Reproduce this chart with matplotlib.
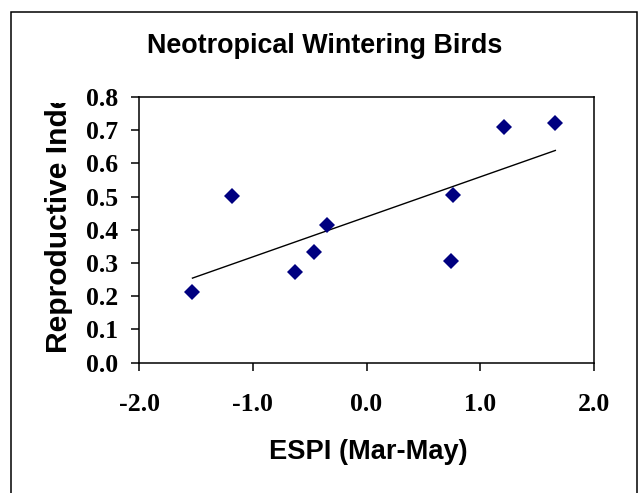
import numpy as np
import matplotlib
matplotlib.use("Agg")
import matplotlib.pyplot as plt
from matplotlib.patches import Rectangle

# Data
espi = [-1.53, -1.18, -0.63, -0.46, -0.35, 0.76, 0.74, 1.21, 1.66]
repro = [0.212, 0.503, 0.272, 0.334, 0.415, 0.506, 0.305, 0.709, 0.722]
x_ticks = [-2.0, -1.0, 0.0, 1.0, 2.0]
y_ticks = [0.0, 0.1, 0.2, 0.3, 0.4, 0.5, 0.6, 0.7, 0.8]
title = "Neotropical Wintering Birds"
xlabel = "ESPI (Mar-May)"
ylabel = "Reproductive Index"

W, H = 641, 493
DPI = 100
fig = plt.figure(figsize=(W / DPI, H / DPI), dpi=DPI)
fig.patch.set_facecolor("white")

def fx(px):
    return px / W

def fy(py):
    return 1 - py / H

ax_l, ax_r, ax_t, ax_b = 139, 594, 97, 362.7
ax = fig.add_axes([fx(ax_l), fy(ax_b), fx(ax_r) - fx(ax_l), fy(ax_t) - fy(ax_b)])

ax.plot(espi, repro, linestyle="none", marker="D", markersize=7.8,
        color="#000080", markeredgewidth=0, zorder=3)

# linear trendline
coef = np.polyfit(espi, repro, 1)
xs = np.array([min(espi), max(espi)])
ax.plot(xs, np.polyval(coef, xs), color="black", linewidth=1.0, zorder=2)

ax.set_xlim(-2.0, 2.0)
ax.set_ylim(0.0, 0.8)
ax.set_xticks(x_ticks)
ax.set_yticks(y_ticks)
ax.set_xticklabels([f"{v:.1f}" for v in x_ticks])
ax.set_yticklabels([f"{v:.1f}" for v in y_ticks])

for s in ax.spines.values():
    s.set_linewidth(1.1)
ax.tick_params(axis="both", direction="out", length=6, width=1.1, color="black")
ax.tick_params(axis="x", pad=16)
ax.tick_params(axis="y", pad=9)
for lab in ax.get_xticklabels() + ax.get_yticklabels():
    lab.set_fontfamily("Liberation Serif")
    lab.set_fontweight("bold")
    lab.set_fontsize(18.5)

fig.text(fx(325), fy(53), title, ha="center", va="baseline",
         fontfamily="Liberation Sans", fontweight="bold", fontsize=19.4)
fig.text(fx(368), fy(459), xlabel, ha="center", va="baseline",
         fontfamily="Liberation Sans", fontweight="bold", fontsize=19.6)

fig.text(fx(59), fy(353), ylabel, ha="center", va="bottom", rotation=90,
         fontfamily="Liberation Sans", fontweight="bold", fontsize=21.6,
         zorder=5)
# the label is cut off at the top in the original chart
fig.add_artist(Rectangle((fx(25), fy(103)), fx(85) - fx(25), fy(0) - fy(103),
                         transform=fig.transFigure, facecolor="white",
                         edgecolor="none", zorder=6))

# outer chart border (clipped at the bottom)
fig.add_artist(Rectangle((fx(11), fy(520)), fx(637) - fx(11), fy(12) - fy(520),
                         transform=fig.transFigure, fill=False,
                         edgecolor="black", linewidth=1.1, zorder=7))

fig.savefig("out.png", dpi=DPI)
